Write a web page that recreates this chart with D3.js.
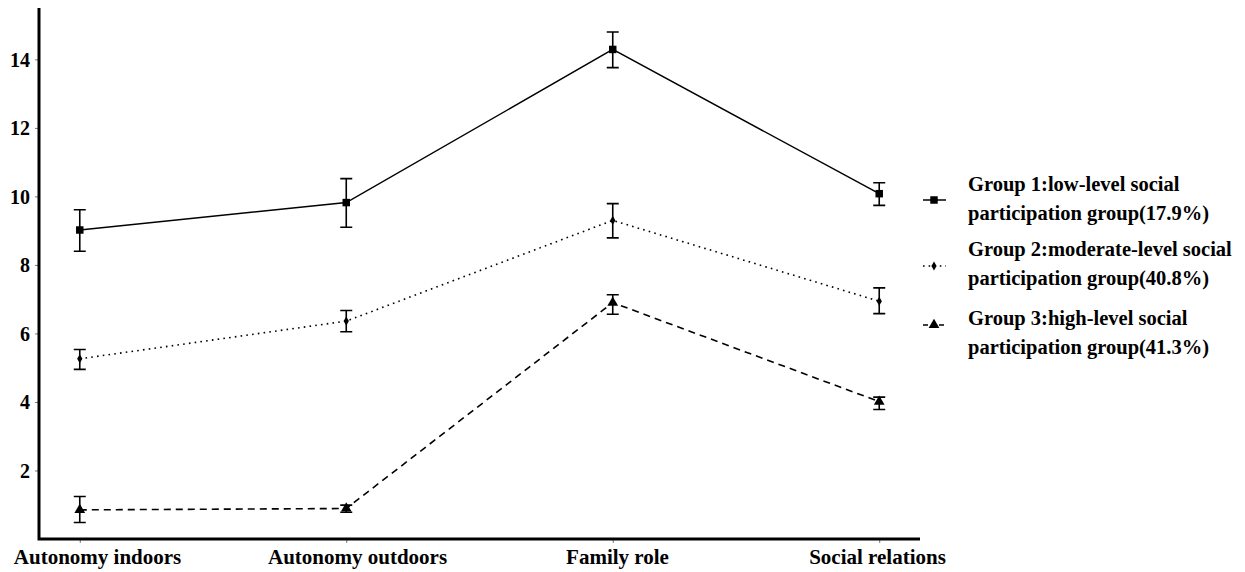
<!DOCTYPE html>
<html>
<head>
<meta charset="utf-8">
<script src="https://cdn.jsdelivr.net/npm/d3@7"></script>
<style>
  html, body { margin: 0; padding: 0; background: #fff; }
  svg { display: block; }
</style>
</head>
<body>
<svg id="chart" width="1245" height="572"></svg>
<script>
const categories = ["Autonomy indoors", "Autonomy outdoors", "Family role", "Social relations"];
const yTicks = [2, 4, 6, 8, 10, 12, 14];

const group1Mean  = [9.02, 9.82, 14.29, 10.08];
const group1Lower = [8.40, 9.10, 13.76, 9.74];
const group1Upper = [9.61, 10.52, 14.80, 10.40];

const group2Mean  = [5.26, 6.36, 9.30, 6.94];
const group2Lower = [4.95, 6.05, 8.79, 6.58];
const group2Upper = [5.53, 6.67, 9.79, 7.33];

const group3Mean  = [0.85, 0.89, 6.90, 4.01];
const group3Lower = [0.48, 0.78, 6.56, 3.78];
const group3Upper = [1.24, 0.99, 7.13, 4.14];

const legendLines = [
  ["Group 1:low-level social", "participation group(17.9%)"],
  ["Group 2:moderate-level social", "participation group(40.8%)"],
  ["Group 3:high-level social", "participation group(41.3%)"]
];

const FONT = "'Liberation Serif', 'Times New Roman', Times, serif";

const series = [
  { mean: group1Mean, lo: group1Lower, hi: group1Upper, dash: null, symbol: d3.symbolSquare, size: 56, legend: legendLines[0] },
  { mean: group2Mean, lo: group2Lower, hi: group2Upper, dash: "1.6,4.2", symbol: d3.symbolDiamond, size: 24, legend: legendLines[1] },
  { mean: group3Mean, lo: group3Lower, hi: group3Upper, dash: "7,5", symbol: d3.symbolTriangle, size: 50, legend: legendLines[2] }
];

const svg = d3.select("#chart");
const plotLeft = 39, plotRight = 920, plotTop = 8, plotBottom = 539;

const x = d3.scalePoint().domain(categories).range([plotLeft, plotRight]).padding(0.153);
const labelX = d3.scalePoint().domain(categories).range([97, 877]);
const y = d3.scaleLinear().domain([0, 15.5]).range([plotBottom, plotTop]);

// ticks
const yAxis = d3.axisLeft(y).tickValues(yTicks).tickSize(4).tickPadding(5).tickFormat(d3.format("d"));
const gy = svg.append("g").attr("transform", `translate(${plotLeft},0)`).call(yAxis)
  .attr("font-family", null).attr("font-size", null);
gy.select(".domain").remove();
gy.selectAll(".tick line").attr("stroke", "#777").attr("stroke-width", 1);
gy.selectAll(".tick text")
  .style("font-family", FONT).style("font-weight", "bold").style("font-size", "20px")
  .attr("fill", "#000").attr("dy", "0.34em");

const xAxis = d3.axisBottom(x).tickSize(4).tickPadding(6);
const gx = svg.append("g").attr("transform", `translate(0,${plotBottom})`).call(xAxis)
  .attr("font-family", null).attr("font-size", null);
gx.select(".domain").remove();
gx.selectAll(".tick line").attr("stroke", "#777").attr("stroke-width", 1);
gx.selectAll(".tick text")
  .style("font-family", FONT).style("font-weight", "bold").style("font-size", "21px")
  .attr("fill", "#000").attr("dy", "0.71em")
  .attr("x", d => labelX(d) - x(d));

// axis lines
svg.append("path")
  .attr("d", `M${plotLeft},${plotTop}V${plotBottom}H${plotRight}`)
  .attr("fill", "none").attr("stroke", "#000").attr("stroke-width", 3);

const line = d3.line().x((d, i) => x(categories[i])).y(d => y(d));

series.forEach(s => {
  const g = svg.append("g");
  g.append("path")
    .datum(s.mean)
    .attr("d", line)
    .attr("fill", "none")
    .attr("stroke", "#000")
    .attr("stroke-width", s.dash ? 1.6 : 1.5)
    .attr("stroke-dasharray", s.dash);
  categories.forEach((c, i) => {
    const cx = x(c);
    const path = d3.path();
    path.moveTo(cx, y(s.lo[i])); path.lineTo(cx, y(s.hi[i]));
    path.moveTo(cx - 6, y(s.lo[i])); path.lineTo(cx + 6, y(s.lo[i]));
    path.moveTo(cx - 6, y(s.hi[i])); path.lineTo(cx + 6, y(s.hi[i]));
    g.append("path").attr("d", path.toString()).attr("fill", "none").attr("stroke", "#000").attr("stroke-width", 1.6);
    g.append("path")
      .attr("d", d3.symbol().type(s.symbol).size(s.size)())
      .attr("transform", `translate(${cx},${y(s.mean[i])})`)
      .attr("fill", "#000");
  });
});

// legend
const legendMarkerY = [200, 266, 325];
const legendTextY = [191, 256, 325];
series.forEach((s, k) => {
  const ly = legendMarkerY[k];
  svg.append("line")
    .attr("x1", 923).attr("x2", 946).attr("y1", ly).attr("y2", ly)
    .attr("stroke", "#000").attr("stroke-width", 1.5)
    .attr("stroke-dasharray", s.dash ? (k === 1 ? "1.6,4" : "5,3") : null);
  svg.append("path")
    .attr("d", d3.symbol().type(s.symbol).size(s.size)())
    .attr("transform", `translate(934,${ly})`)
    .attr("fill", "#000");
  s.legend.forEach((t, j) => {
    svg.append("text")
      .attr("x", 968)
      .attr("y", legendTextY[k] + j * 28.5)
      .style("font-family", FONT).style("font-weight", "bold").style("font-size", "20.5px")
      .attr("fill", "#000")
      .text(t);
  });
});
</script>
</body>
</html>
